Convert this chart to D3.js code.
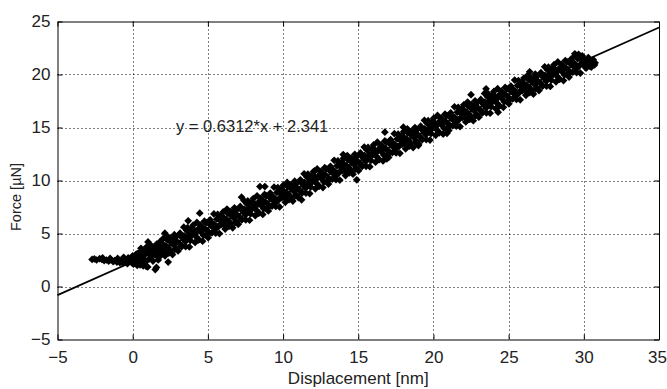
<!DOCTYPE html>
<html>
<head>
<meta charset="utf-8">
<script src="https://cdn.jsdelivr.net/npm/d3@7"></script>
<style>
html,body{margin:0;padding:0;background:#fff;}
svg{display:block;}
text{font-family:"Liberation Sans",Arial,sans-serif;fill:#222;}
</style>
</head>
<body>
<svg id="chart" width="667" height="389"></svg>
<script>
// ---- data ----
const xTicks = [-5, 0, 5, 10, 15, 20, 25, 30, 35];
const yTicks = [-5, 0, 5, 10, 15, 20, 25];
const xLabel = "Displacement [nm]";
const yLabel = "Force [\u00B5N]";
const fitSlope = 0.6312;
const fitIntercept = 2.341;
const fitText = "y = 0.6312*x + 2.341";

// measured samples [displacement nm, force uN] – contact onset
const samplesStart = [
[-2.7,2.55],[-2.55,2.6],[-2.4,2.5],[-2.2,2.62],[-2.05,2.55],[-1.9,2.45],[-1.75,2.5],[-1.6,2.4],[-1.45,2.5],[-1.3,2.35],[-1.2,2.45],[-1.05,2.3],[-0.95,2.5],[-0.85,2.25],[-0.75,2.4],[-0.65,2.2],[-0.55,2.55],[-0.45,2.3],[-0.35,2.15],[-0.25,2.45],[-0.15,2.6],[-0.05,2.25],[0.0,2.9],[-0.3,2.7],[-0.6,2.75],[-1.0,2.65],[-1.5,2.65],[-2.0,2.7],
[0.05,2.1],[0.1,2.4],[0.15,2.7],[0.2,3.0],[0.25,2.2],[0.3,2.0],[0.35,2.5],[0.4,2.8],[0.45,3.2],[0.5,2.05],[0.55,2.35],[0.6,2.9],[0.65,3.3],[0.7,1.95],[0.75,2.6],[0.8,3.0],[0.85,2.3],[0.9,1.9],[0.95,3.4],[1.0,1.85],[0.55,3.6],[0.3,3.1],[1.02,4.2],[0.9,3.7],
[1.05,3.1],[1.1,2.6],[1.15,3.5],[1.2,3.9],[1.25,2.9],[1.3,3.3],[1.35,2.4],[1.4,3.7],[1.45,3.0],[1.5,1.6],[1.55,3.4],[1.6,4.0],[1.65,2.8],[1.7,3.6],[1.75,3.2],[1.8,4.2],[1.85,2.9],[1.9,3.5],[1.95,3.9],[2.0,3.3],[1.7,2.5],[1.58,1.8]
];
// isolated outliers
const samplesOutliers = [
[2.14,5.03],[2.36,2.3],[3.69,6.2],[4.46,6.92],[7.24,8.43],[8.46,9.43],[8.79,9.43],[11.23,8.18],[12.1,10.9],[14.0,12.45],[14.9,10.07],[16.77,14.56],[16.9,12.05],[18.0,15.03],[19.0,13.3],[20.9,14.45],[22.43,15.8],[22.5,18.1],[23.5,18.65],[24.3,16.44],[26.4,20.25],[29.4,21.75],[30.75,21.1],[30.5,20.7]
];
// main loading band (core)
const samplesCore = [
[2.05,3.93],[2.13,3.28],[2.21,3.83],[2.30,4.39],[2.38,3.64],[2.46,3.39],[2.55,4.15],[2.63,4.40],[2.71,3.95],[2.80,3.50],[2.88,4.66],[2.96,4.21],
[3.09,4.07],[3.17,4.82],[3.25,3.77],[3.34,4.53],[3.42,4.78],[3.50,4.23],[3.59,5.29],[3.67,4.54],[3.75,4.89],[3.84,4.34],[3.92,4.80],[3.99,5.25],
[4.05,5.40],[4.13,4.95],[4.21,4.70],[4.30,5.26],[4.38,4.41],[4.46,5.56],[4.55,5.12],[4.63,5.57],[4.71,4.82],[4.80,5.47],[4.88,6.03],[4.96,5.28],
[5.09,5.03],[5.17,5.78],[5.25,6.03],[5.34,5.59],[5.42,5.84],[5.50,5.39],[5.59,6.35],[5.67,5.60],[5.75,6.55],[5.84,6.20],[5.92,5.86],[5.99,6.21],
[6.05,6.46],[6.13,5.81],[6.21,6.36],[6.30,6.92],[6.38,6.17],[6.46,5.92],[6.55,6.68],[6.63,6.93],[6.71,6.48],[6.80,6.03],[6.88,7.19],[6.96,6.74],
[7.09,6.59],[7.17,7.34],[7.25,6.29],[7.34,7.05],[7.42,7.30],[7.50,6.75],[7.59,7.81],[7.67,7.06],[7.75,7.41],[7.84,6.86],[7.92,7.32],[7.99,7.77],
[8.05,7.92],[8.13,7.47],[8.21,7.22],[8.30,7.78],[8.38,6.93],[8.46,8.08],[8.55,7.64],[8.63,8.09],[8.71,7.34],[8.80,7.99],[8.88,8.55],[8.96,7.80],
[9.09,7.55],[9.17,8.30],[9.25,8.55],[9.34,8.11],[9.42,8.36],[9.50,7.91],[9.59,8.87],[9.67,8.12],[9.75,9.07],[9.84,8.72],[9.92,8.38],[9.99,8.73],
[10.05,8.98],[10.13,8.33],[10.21,8.88],[10.30,9.44],[10.38,8.69],[10.46,8.44],[10.55,9.20],[10.63,9.45],[10.71,9.00],[10.80,8.55],[10.88,9.71],[10.96,9.26],
[11.09,9.11],[11.17,9.86],[11.25,8.81],[11.34,9.57],[11.42,9.82],[11.50,9.27],[11.59,10.33],[11.67,9.58],[11.75,9.93],[11.84,9.38],[11.92,9.84],[11.99,10.29],
[12.05,10.45],[12.13,10.00],[12.21,9.75],[12.30,10.31],[12.38,9.46],[12.46,10.61],[12.55,10.17],[12.63,10.62],[12.71,9.87],[12.80,10.52],[12.88,11.08],[12.96,10.33],
[13.09,10.08],[13.17,10.83],[13.25,11.08],[13.34,10.64],[13.42,10.89],[13.50,10.44],[13.59,11.40],[13.67,10.65],[13.75,11.60],[13.84,11.25],[13.92,10.91],[13.99,11.26],
[14.05,11.51],[14.13,10.86],[14.21,11.41],[14.30,11.97],[14.38,11.22],[14.46,10.97],[14.55,11.73],[14.63,11.98],[14.71,11.53],[14.80,11.08],[14.88,12.24],[14.96,11.79],
[15.09,11.64],[15.17,12.39],[15.25,11.34],[15.34,12.10],[15.42,12.35],[15.50,11.80],[15.59,12.86],[15.67,12.11],[15.75,12.46],[15.84,11.91],[15.92,12.37],[15.99,12.82],
[16.05,12.97],[16.13,12.52],[16.21,12.27],[16.30,12.83],[16.38,11.98],[16.46,13.13],[16.55,12.69],[16.63,13.14],[16.71,12.39],[16.80,13.04],[16.88,13.60],[16.96,12.85],
[17.09,12.60],[17.17,13.35],[17.25,13.60],[17.34,13.16],[17.42,13.41],[17.50,12.96],[17.59,13.92],[17.67,13.17],[17.75,14.12],[17.84,13.77],[17.92,13.43],[17.99,13.78],
[18.05,14.03],[18.13,13.38],[18.21,13.93],[18.30,14.49],[18.38,13.74],[18.46,13.49],[18.55,14.25],[18.63,14.50],[18.71,14.05],[18.80,13.60],[18.88,14.76],[18.96,14.31],
[19.09,14.16],[19.17,14.91],[19.25,13.86],[19.34,14.62],[19.42,14.87],[19.50,14.32],[19.59,15.38],[19.67,14.63],[19.75,14.98],[19.84,14.43],[19.92,14.89],[19.99,15.34],
[20.05,15.50],[20.13,15.05],[20.21,14.80],[20.30,15.36],[20.38,14.51],[20.46,15.66],[20.55,15.22],[20.63,15.67],[20.71,14.92],[20.80,15.57],[20.88,16.13],[20.96,15.38],
[21.09,15.13],[21.17,15.88],[21.25,16.13],[21.34,15.69],[21.42,15.94],[21.50,15.49],[21.59,16.45],[21.67,15.70],[21.75,16.65],[21.84,16.30],[21.92,15.96],[21.99,16.31],
[22.05,16.56],[22.13,15.91],[22.21,16.46],[22.30,17.02],[22.38,16.27],[22.46,16.02],[22.55,16.78],[22.63,17.03],[22.71,16.58],[22.80,16.13],[22.88,17.29],[22.96,16.84],
[23.09,16.69],[23.17,17.44],[23.25,16.39],[23.34,17.15],[23.42,17.40],[23.50,16.85],[23.59,17.91],[23.67,17.16],[23.75,17.51],[23.84,16.96],[23.92,17.42],[23.99,17.87],
[24.05,18.02],[24.13,17.57],[24.21,17.32],[24.30,17.88],[24.38,17.03],[24.46,18.18],[24.55,17.74],[24.63,18.19],[24.71,17.44],[24.80,18.09],[24.88,18.65],[24.96,17.90],
[25.09,17.65],[25.17,18.40],[25.25,18.65],[25.34,18.21],[25.42,18.46],[25.50,18.01],[25.59,18.97],[25.67,18.22],[25.75,19.17],[25.84,18.82],[25.92,18.48],[25.99,18.83],
[26.05,19.08],[26.13,18.43],[26.21,18.98],[26.30,19.54],[26.38,18.79],[26.46,18.54],[26.55,19.30],[26.63,19.55],[26.71,19.10],[26.80,18.65],[26.88,19.81],[26.96,19.36],
[27.09,19.21],[27.17,19.96],[27.25,18.91],[27.34,19.67],[27.42,19.92],[27.50,19.37],[27.59,20.43],[27.67,19.68],[27.75,20.03],[27.84,19.48],[27.92,19.94],[27.99,20.39],
[28.05,20.55],[28.13,20.10],[28.21,19.85],[28.30,20.41],[28.38,19.56],[28.46,20.71],[28.55,20.27],[28.63,20.72],[28.71,19.97],[28.80,20.62],[28.88,21.18],[28.96,20.43],
[29.09,20.18],[29.17,20.93],[29.25,21.18],[29.34,20.74],[29.42,20.99],[29.50,20.54],[29.59,21.50],[29.67,20.75],[29.75,21.70],[29.84,21.35],[29.92,21.01],[29.99,21.36],
[30.05,21.3],[30.13,20.7],[30.21,21.2],[30.30,21.6],[30.38,20.9],[30.46,20.8],[30.55,21.2],[30.63,21.4],[30.71,20.9]
];
// main loading band (spread)
const samplesSpread = [
[2.02,4.51],[2.15,2.89],[2.27,4.77],[2.40,3.15],[2.52,4.53],[2.65,3.01],[2.77,4.89],[2.90,3.57],
[3.02,3.35],[3.15,5.03],[3.27,3.81],[3.40,5.59],[3.52,3.77],[3.65,5.55],[3.77,3.73],[3.90,5.41],
[4.02,5.78],[4.15,4.16],[4.27,6.04],[4.40,4.42],[4.52,5.80],[4.65,4.28],[4.77,6.16],[4.90,4.84],
[5.02,4.61],[5.15,6.29],[5.27,5.07],[5.40,6.85],[5.52,5.03],[5.65,6.81],[5.77,4.99],[5.90,6.67],
[6.02,7.04],[6.15,5.42],[6.27,7.30],[6.40,5.68],[6.52,7.06],[6.65,5.54],[6.77,7.42],[6.90,6.10],
[7.02,5.87],[7.15,7.55],[7.27,6.33],[7.40,8.11],[7.52,6.29],[7.65,8.07],[7.77,6.25],[7.90,7.93],
[8.02,8.30],[8.15,6.68],[8.27,8.56],[8.40,6.94],[8.52,8.32],[8.65,6.80],[8.77,8.68],[8.90,7.36],
[9.02,7.13],[9.15,8.81],[9.27,7.59],[9.40,9.37],[9.52,7.55],[9.65,9.33],[9.77,7.51],[9.90,9.19],
[10.02,9.56],[10.15,7.94],[10.27,9.82],[10.40,8.20],[10.52,9.58],[10.65,8.06],[10.77,9.94],[10.90,8.62],
[11.02,8.39],[11.15,10.07],[11.27,8.85],[11.40,10.63],[11.52,8.81],[11.65,10.59],[11.77,8.77],[11.90,10.45],
[12.02,10.83],[12.15,9.21],[12.27,11.09],[12.40,9.47],[12.52,10.85],[12.65,9.33],[12.77,11.21],[12.90,9.89],
[13.02,9.66],[13.15,11.34],[13.27,10.12],[13.40,11.90],[13.52,10.08],[13.65,11.86],[13.77,10.04],[13.90,11.72],
[14.02,12.09],[14.15,10.47],[14.27,12.35],[14.40,10.73],[14.52,12.11],[14.65,10.59],[14.77,12.47],[14.90,11.15],
[15.02,10.92],[15.15,12.60],[15.27,11.38],[15.40,13.16],[15.52,11.34],[15.65,13.12],[15.77,11.30],[15.90,12.98],
[16.02,13.35],[16.15,11.73],[16.27,13.61],[16.40,11.99],[16.52,13.37],[16.65,11.85],[16.77,13.73],[16.90,12.41],
[17.02,12.18],[17.15,13.86],[17.27,12.64],[17.40,14.42],[17.52,12.60],[17.65,14.38],[17.77,12.56],[17.90,14.24],
[18.02,14.61],[18.15,12.99],[18.27,14.87],[18.40,13.25],[18.52,14.63],[18.65,13.11],[18.77,14.99],[18.90,13.67],
[19.02,13.44],[19.15,15.12],[19.27,13.90],[19.40,15.68],[19.52,13.86],[19.65,15.64],[19.77,13.82],[19.90,15.50],
[20.02,15.88],[20.15,14.26],[20.27,16.14],[20.40,14.52],[20.52,15.90],[20.65,14.38],[20.77,16.26],[20.90,14.94],
[21.02,14.71],[21.15,16.39],[21.27,15.17],[21.40,16.95],[21.52,15.13],[21.65,16.91],[21.77,15.09],[21.90,16.77],
[22.02,17.14],[22.15,15.52],[22.27,17.40],[22.40,15.78],[22.52,17.16],[22.65,15.64],[22.77,17.52],[22.90,16.20],
[23.02,15.97],[23.15,17.65],[23.27,16.43],[23.40,18.21],[23.52,16.39],[23.65,18.17],[23.77,16.35],[23.90,18.03],
[24.02,18.40],[24.15,16.78],[24.27,18.66],[24.40,17.04],[24.52,18.42],[24.65,16.90],[24.77,18.78],[24.90,17.46],
[25.02,17.23],[25.15,18.91],[25.27,17.69],[25.40,19.47],[25.52,17.65],[25.65,19.43],[25.77,17.61],[25.90,19.29],
[26.02,19.66],[26.15,18.04],[26.27,19.92],[26.40,18.30],[26.52,19.68],[26.65,18.16],[26.77,20.04],[26.90,18.72],
[27.02,18.49],[27.15,20.17],[27.27,18.95],[27.40,20.73],[27.52,18.91],[27.65,20.69],[27.77,18.87],[27.90,20.55],
[28.02,20.93],[28.15,19.31],[28.27,21.19],[28.40,19.57],[28.52,20.95],[28.65,19.43],[28.77,21.31],[28.90,19.99],
[29.02,19.76],[29.15,21.44],[29.27,20.22],[29.40,21.95],[29.52,20.18],[29.65,21.90],[29.77,20.14],[29.90,21.75],
[30.02,21.0],[30.15,20.6],[30.27,21.5],[30.40,20.8],[30.52,21.2]
];

// ---- layout ----
const mLeft = 57.5, mRight = 659, mTop = 21.5, mBottom = 339.5;
const svg = d3.select("#chart");
const x = d3.scaleLinear().domain([-5, 35]).range([mLeft, mRight]);
const y = d3.scaleLinear().domain([-5, 25]).range([mBottom, mTop]);

// grid
const grid = svg.append("g").attr("stroke", "#000").attr("stroke-width", 1).attr("stroke-dasharray", "1,3");
grid.selectAll("line.gx").data(xTicks.slice(1, -1)).join("line").attr("class", "gx")
  .attr("x1", d => Math.round(x(d)) + 0.5).attr("x2", d => Math.round(x(d)) + 0.5)
  .attr("y1", mTop).attr("y2", mBottom);
grid.selectAll("line.gy").data(yTicks.slice(1, -1)).join("line").attr("class", "gy")
  .attr("y1", d => Math.round(y(d)) + 0.5).attr("y2", d => Math.round(y(d)) + 0.5)
  .attr("x1", mLeft).attr("x2", mRight);

// points
const allSamples = samplesStart.concat(samplesOutliers, samplesCore, samplesSpread);
const sym = d3.symbol().type(d3.symbolSquare).size(30);
svg.append("g").selectAll("path").data(allSamples).join("path")
  .attr("d", sym)
  .attr("fill", "#000")
  .attr("transform", d => `translate(${x(d[0])},${y(d[1])}) rotate(45)`);

// fit line
const xd = x.domain();
svg.append("line")
  .attr("x1", x(xd[0])).attr("y1", y(fitSlope * xd[0] + fitIntercept))
  .attr("x2", x(xd[1])).attr("y2", y(fitSlope * xd[1] + fitIntercept))
  .attr("stroke", "#000").attr("stroke-width", 1.7);

// axes (MATLAB-like box with inward ticks)
const fs = 17;
const axB = d3.axisBottom(x).tickValues(xTicks).tickSizeInner(-5).tickSizeOuter(0).tickPadding(11.5).tickFormat(d3.format("d"));
const axT = d3.axisTop(x).tickValues(xTicks).tickSizeInner(-5).tickSizeOuter(0).tickFormat("");
const axL = d3.axisLeft(y).tickValues(yTicks).tickSizeInner(-5).tickSizeOuter(0).tickPadding(7).tickFormat(d3.format("d"));
const axR = d3.axisRight(y).tickValues(yTicks).tickSizeInner(-5).tickSizeOuter(0).tickFormat("");
function style(g){
  g.select(".domain").attr("stroke", "#000");
  g.selectAll(".tick line").attr("stroke", "#000");
  g.selectAll("text").attr("font-size", fs).attr("fill", "#222").attr("font-family", "Liberation Sans, Arial, sans-serif");
}
const gB = svg.append("g").attr("transform", `translate(0,${mBottom})`).call(axB).call(style);
gB.selectAll(".tick text").attr("dx", d => d === 35 ? -2 : 0);
svg.append("g").attr("transform", `translate(0,${mTop})`).call(axT).call(style);
svg.append("g").attr("transform", `translate(${mLeft},0)`).call(axL).call(style);
svg.append("g").attr("transform", `translate(${mRight},0)`).call(axR).call(style);

// axis labels
svg.append("text").attr("x", (mLeft + mRight) / 2).attr("y", 384)
  .attr("text-anchor", "middle").attr("font-size", fs).text(xLabel);
svg.append("text").attr("transform", `translate(21,197) rotate(-90)`)
  .attr("text-anchor", "middle").attr("font-size", 14.5).text(yLabel);

// annotation
svg.append("text").attr("x", x(2.88)).attr("y", y(14.58))
  .attr("font-size", 16.5).attr("fill", "#333").text(fitText);
</script>
</body>
</html>
